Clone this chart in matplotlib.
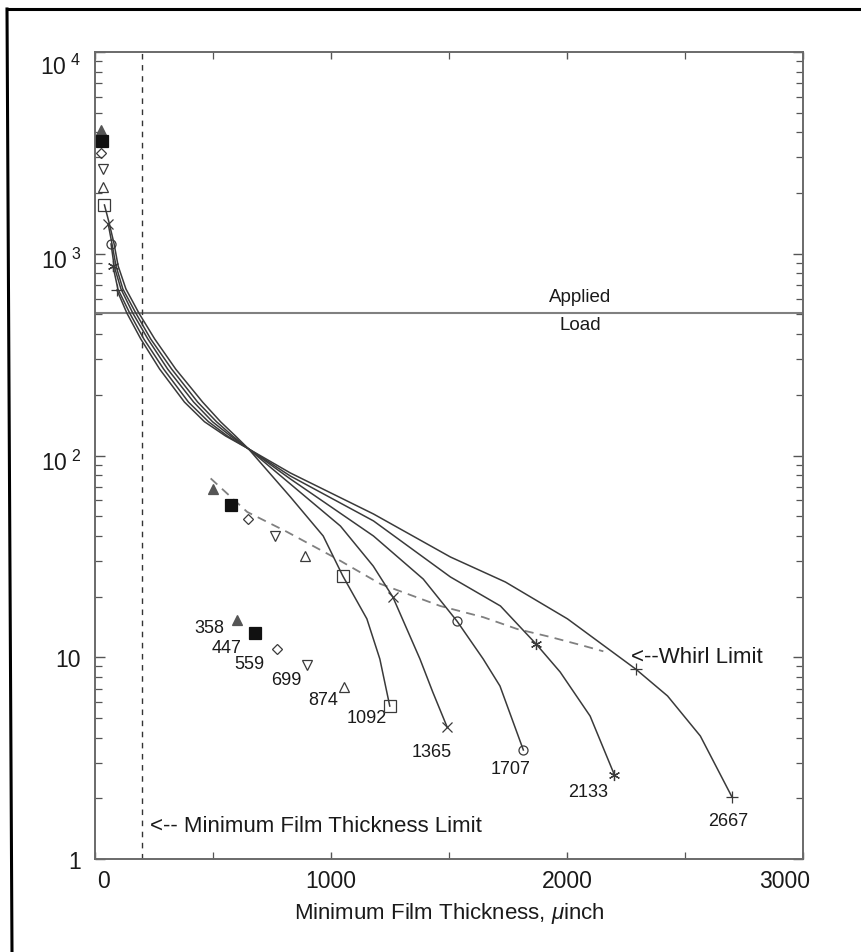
import math
import matplotlib
matplotlib.use("Agg")
import matplotlib.pyplot as plt
from matplotlib.lines import Line2D
from matplotlib.transforms import ScaledTranslation
from matplotlib.ticker import FixedLocator, LogLocator, NullFormatter, FuncFormatter

plt.rcParams['font.family'] = ['Liberation Sans', 'DejaVu Sans']
plt.rcParams['mathtext.fontset'] = 'custom'
plt.rcParams['mathtext.rm'] = 'Liberation Sans'
plt.rcParams['mathtext.it'] = 'Liberation Sans:italic'

# ---------------- data ----------------
speeds = [358, 447, 559, 699, 874, 1092, 1365, 1707, 2133, 2667]
markers = ['^', 's', 'D', 'v', '^', 's', 'x', 'o', (6, 2, 0), '+']

# low-speed cases: only start, whirl, end points (no curve drawn)
low_x = {
    358: [25, 500, 603],
    447: [28, 578, 680],
    559: [24, 650, 773],
    699: [32, 761, 897],
    874: [36, 888, 1054],
}
low_y = {
    358: [4100, 68.2, 15.3],
    447: [3620, 56.9, 13.2],
    559: [3160, 48.4, 11.0],
    699: [2630, 39.9, 9.15],
    874: [2140, 31.8, 7.12],
}

# curves for higher speeds (film thickness, load)
curve_x = {
    1092: [40, 60, 81, 98, 131, 186, 253, 342, 456, 532, 595, 650, 688, 828, 967, 1050, 1152, 1207, 1249],
    1365: [56, 72, 89, 118, 173, 236, 325, 435, 515, 583, 650, 828, 1040, 1179, 1262, 1377, 1431, 1492],
    1707: [68, 81, 110, 160, 224, 308, 418, 498, 574, 650, 828, 1180, 1391, 1534, 1645, 1716, 1815],
    2133: [76, 97, 147, 207, 291, 396, 481, 561, 650, 828, 1180, 1506, 1718, 1870, 1971, 2098, 2201],
    2667: [93, 135, 194, 274, 379, 464, 553, 650, 828, 1180, 1506, 1739, 2002, 2291, 2426, 2565, 2699],
}
curve_y = {
    1092: [1745, 1421, 1118, 870, 669, 508, 378, 268, 184, 147, 125, 108, 96, 62.3, 39.9, 25.3, 15.5, 9.8, 5.73],
    1365: [1404, 1118, 870, 669, 508, 378, 268, 184, 147, 125, 108, 72.2, 44.7, 28.3, 19.9, 9.8, 6.73, 4.51],
    1707: [1118, 870, 669, 508, 378, 268, 184, 147, 125, 108, 76.5, 39.9, 24.4, 15.1, 9.8, 7.2, 3.47],
    2133: [870, 669, 508, 378, 268, 184, 147, 125, 108, 79.1, 47.4, 25.0, 17.95, 11.6, 8.45, 5.11, 2.61],
    2667: [661, 508, 378, 268, 184, 147, 125, 108, 81.9, 51.3, 31.4, 23.6, 15.5, 8.74, 6.43, 4.07, 2.03],
}
whirl_index = {1092: 15, 1365: 14, 1707: 13, 2133: 13, 2667: 13}

whirl_x = [490, 645, 814, 1026, 1209, 1463, 1645, 1789, 1930, 2070, 2154]
whirl_y = [77, 52.5, 41.8, 30.7, 23.1, 17.95, 15.8, 13.8, 12.6, 11.4, 10.7]

applied_load = 510
min_film_limit = 200

# label offsets (pixels) of speed labels from curve end points
label_off = {358: (-28, -8), 447: (-29, -15), 559: (-28, -15), 699: (-20, -14),
             874: (-21, -12), 1092: (-23, -11), 1365: (-15, -24), 1707: (-13, -19),
             2133: (-26, -17), 2667: (-4, -24)}

# ---------------- figure ----------------
W, H = 862, 953
fig = plt.figure(figsize=(W / 100, H / 100), dpi=100)
ax = fig.add_axes([95 / W, 1 - 860 / H, (803 - 95) / W, (860 - 53) / H])

line_c = '#3a3a3a'
mk_c = '#3a3a3a'


def draw_marker(x, y, m, s):
    filled = (s in (358, 447))
    if s == 358:
        fc = '#555555'
    elif s == 447:
        fc = '#111111'
    else:
        fc = 'none'
    size = {'^': 7, 's': 8, 'D': 5.5, 'v': 7, 'x': 7, 'o': 6.5, '+': 8}.get(m if isinstance(m, str) else '*', 8)
    if s == 1092:
        size = 9
    ax.plot(x, y, linestyle='none', marker=m, markersize=size,
            markerfacecolor=fc, markeredgecolor=mk_c if not filled else fc,
            markeredgewidth=0.9, zorder=4, clip_on=False)


for s, m in zip(speeds, markers):
    if s in low_x:
        xs, ys = low_x[s], low_y[s]
        draw_marker(xs, ys, m, s)
    else:
        xs, ys = curve_x[s], curve_y[s]
        ax.plot(xs, ys, color=line_c, lw=1.1, zorder=3)
        iw = whirl_index[s]
        draw_marker([xs[0], xs[iw], xs[-1]], [ys[0], ys[iw], ys[-1]], m, s)
    ax.annotate(str(s), xy=(xs[-1], ys[-1]), xytext=label_off[s], textcoords='offset pixels',
                ha='center', va='center', fontsize=13, color='#1a1a1a')

# whirl limit dashed line
ax.plot(whirl_x, whirl_y, color='#808080', lw=1.3, dashes=(5, 3.5), zorder=2)
ax.text(2270, 10.1, '<--Whirl Limit', fontsize=16, ha='left', va='center', color='#1a1a1a')

# applied load
ax.axhline(applied_load, color='#808080', lw=1.5, zorder=2)
ax.annotate('Applied', xy=(2055, applied_load), xytext=(0, 16), textcoords='offset pixels',
            ha='center', va='center', fontsize=13.5, color='#1a1a1a')
ax.annotate('Load', xy=(2055, applied_load), xytext=(0, -12), textcoords='offset pixels',
            ha='center', va='center', fontsize=13.5, color='#1a1a1a')

# minimum film thickness limit
ax.axvline(min_film_limit, color='#333333', lw=1.0, dashes=(4, 4), zorder=2)
ax.text(235, 1.47, '<-- Minimum Film Thickness Limit', fontsize=16, ha='left', va='center',
        color='#1a1a1a')

# axes
ax.set_yscale('log')
ax.set_xlim(0, 3000)
ax.set_ylim(1, 1e4)

ax.xaxis.set_major_locator(FixedLocator([0, 1000, 2000, 3000]))
ax.xaxis.set_minor_locator(FixedLocator([500, 1500, 2500]))
ax.yaxis.set_major_locator(FixedLocator([1, 10, 100, 1000, 10000]))
ax.yaxis.set_minor_locator(LogLocator(base=10, subs=range(2, 10), numticks=50))
ax.yaxis.set_minor_formatter(NullFormatter())


def yfmt(v, pos):
    e = int(round(math.log10(v)))
    if e == 0:
        return '1'
    if e == 1:
        return '10'
    return r'$\mathregular{10^{\ %d}}$' % e


ax.yaxis.set_major_formatter(FuncFormatter(yfmt))
ax.tick_params(which='both', direction='in', top=True, right=True, colors='#555555',
               labelcolor='#1a1a1a', labelsize=16.5)
ax.tick_params(which='major', length=7, width=1.0)
ax.tick_params(which='minor', length=5, width=0.9)
ax.tick_params(axis='x', which='both', length=5, pad=7)
ax.tick_params(axis='y', pad=10)

for sp in ax.spines.values():
    sp.set_color('#6a6a6a')
    sp.set_linewidth(1.4)

ax.set_xlabel(r'Minimum Film Thickness, $\mathit{\mu}$inch', fontsize=16, color='#1a1a1a', labelpad=6)

# scanned frame (top and left edges)
fig.add_artist(Line2D([7 / W, 1.0], [1 - 10 / H, 1 - 10 / H], transform=fig.transFigure,
                      color='black', lw=2.2))
fig.add_artist(Line2D([7 / W, 12 / W], [1 - 10 / H, 0.0], transform=fig.transFigure,
                      color='black', lw=2.2))

# nudge a few tick labels like in the original
fig.canvas.draw()
xl = ax.get_xticklabels()
xl[0].set_transform(xl[0].get_transform() + ScaledTranslation(0.09, 0, fig.dpi_scale_trans))
xl[-1].set_transform(xl[-1].get_transform() + ScaledTranslation(-0.18, 0, fig.dpi_scale_trans))
yl = ax.get_yticklabels()
for lab in yl[2:]:
    dy = -0.12 if lab is yl[-1] else -0.04
    lab.set_transform(lab.get_transform() + ScaledTranslation(0, dy, fig.dpi_scale_trans))

fig.savefig('out.png', dpi=100)
